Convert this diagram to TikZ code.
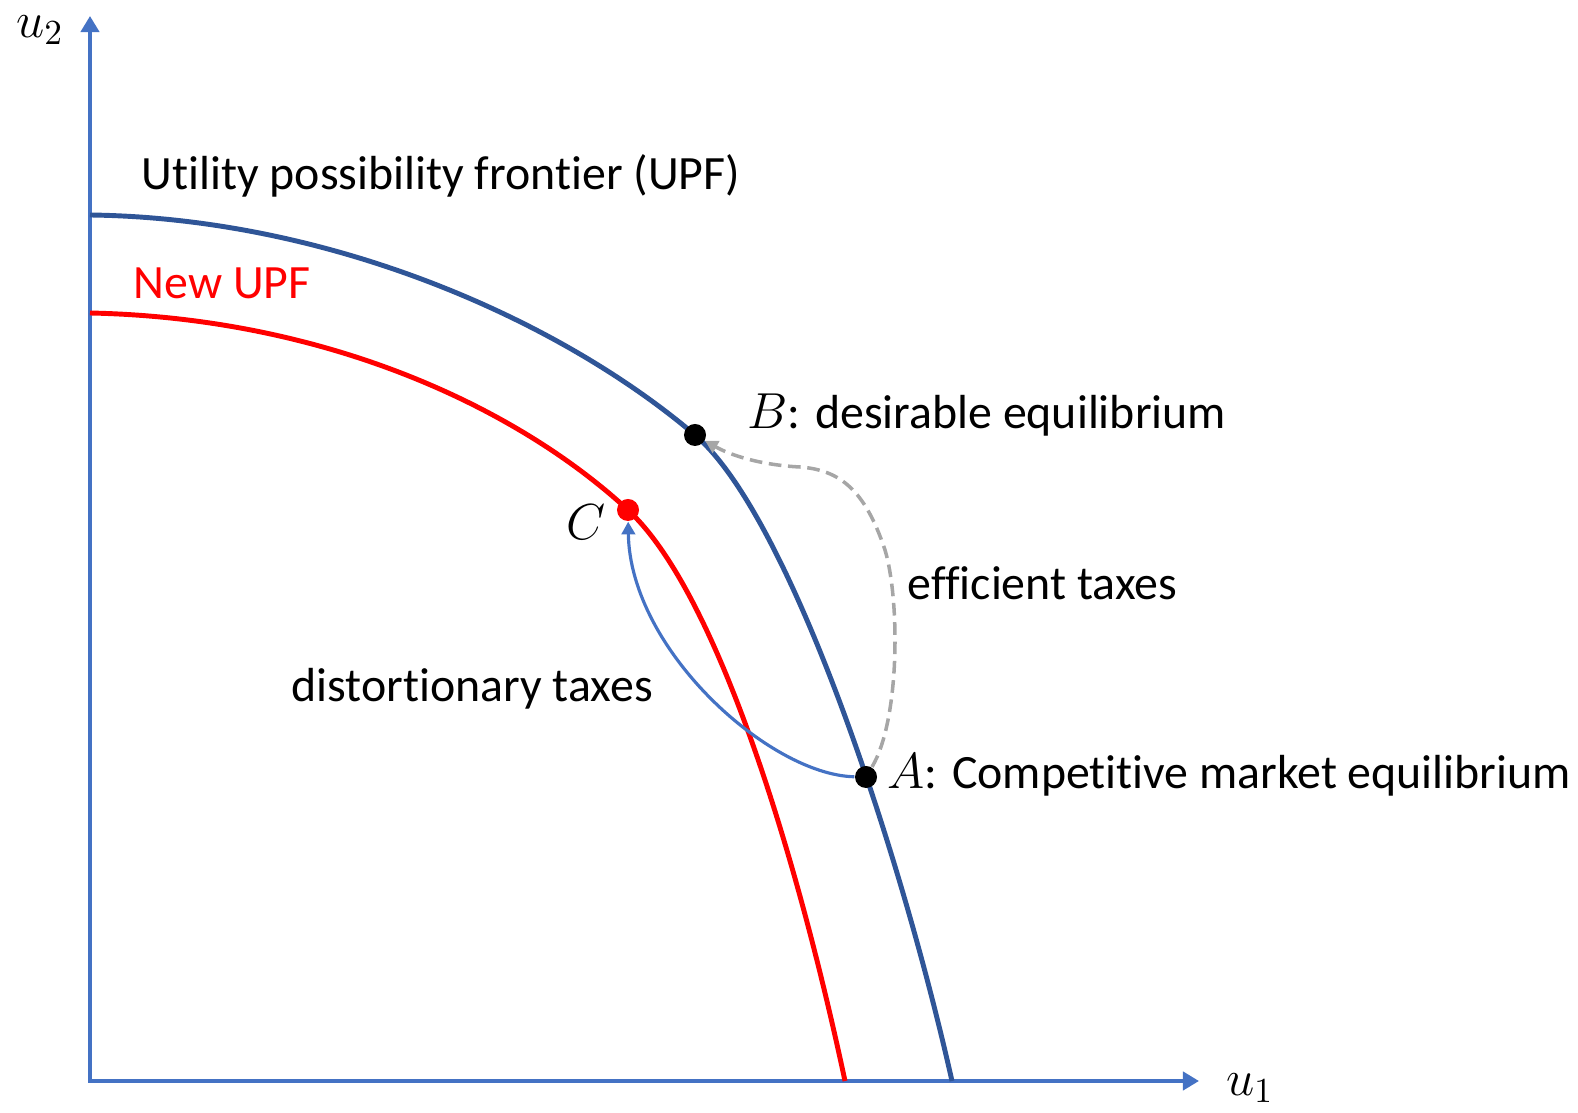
\documentclass[tikz,border=0pt]{standalone}
\usepackage{fontspec}
\setmainfont{Carlito}[Ligatures=NoCommon]
\usetikzlibrary{arrows.meta,positioning}
\definecolor{axisblue}{HTML}{4472C4}
\definecolor{upfblue}{HTML}{2F5597}
\definecolor{movegray}{HTML}{A6A6A6}
\begin{document}
\begin{tikzpicture}[x=0.01cm,y=-0.01cm,
  lbl/.style={anchor=west,inner sep=0pt,font=\fontsize{13.6}{16}\selectfont},
  dot/.style={circle,fill,inner sep=0pt,minimum size=0.22cm},
  ax/.style={axisblue,line width=1.1pt},
  upf/.style={line width=1.4pt},
  move/.style={line width=0.9pt,-{Triangle[length=3.6pt,width=3.8pt]}}]
\useasboundingbox (0,0) rectangle (1578,1113);
\coordinate (O) at (90,1081);
\coordinate (ytop) at (90,16);
\coordinate (xend) at (1199,1081);
\draw[ax,{Triangle[length=4.6pt,width=5.2pt]}-{Triangle[length=4.6pt,width=5.2pt]}] (ytop) -- (O) -- (xend);
\node[lbl,anchor=center] (u2) at (40,30) {$u_2$};
\node[lbl,anchor=center] (u1) at (1250,1088) {$u_1$};
\draw[upfblue,upf] (90,215) .. controls (330,218) and (560,320) .. (695,435)
  .. controls (790,516) and (900,850) .. (952,1081);
\draw[red,upf] (90,313) .. controls (330,318) and (520,410) .. (628,510)
  .. controls (720,595) and (800,870) .. (845,1081);
\node[dot] (B) at (695,435) {};
\node[dot] (A) at (866,777) {};
\node[dot,red] (C) at (628,510) {};
\draw[move,axisblue] (A) .. controls (770,775) and (630,650) .. (C);
\draw[move,movegray,line width=1pt,dash pattern=on 3.6pt off 1.9pt] (A) .. controls (900,720) and (900,600) .. (885,550)
  .. controls (865,490) and (840,470) .. (800,467) .. controls (760,465) and (730,455) .. (B);
\node[lbl] (upflbl) at (141,176) {Utility possibility frontier (UPF)};
\node[lbl,red] (newlbl) at (133,283) {New UPF};
\node[lbl] (Blbl) at (747,415) {$B$: desirable equilibrium};
\node[lbl,anchor=center] (Clbl) at (586,522) {$C$};
\node[lbl] (efflbl) at (907,583) {efficient taxes};
\node[lbl] (dislbl) at (291,689) {distortionary taxes};
\node[lbl] (Albl) at (887,775) {$A$: Competitive market equilibrium};
\end{tikzpicture}
\end{document}
